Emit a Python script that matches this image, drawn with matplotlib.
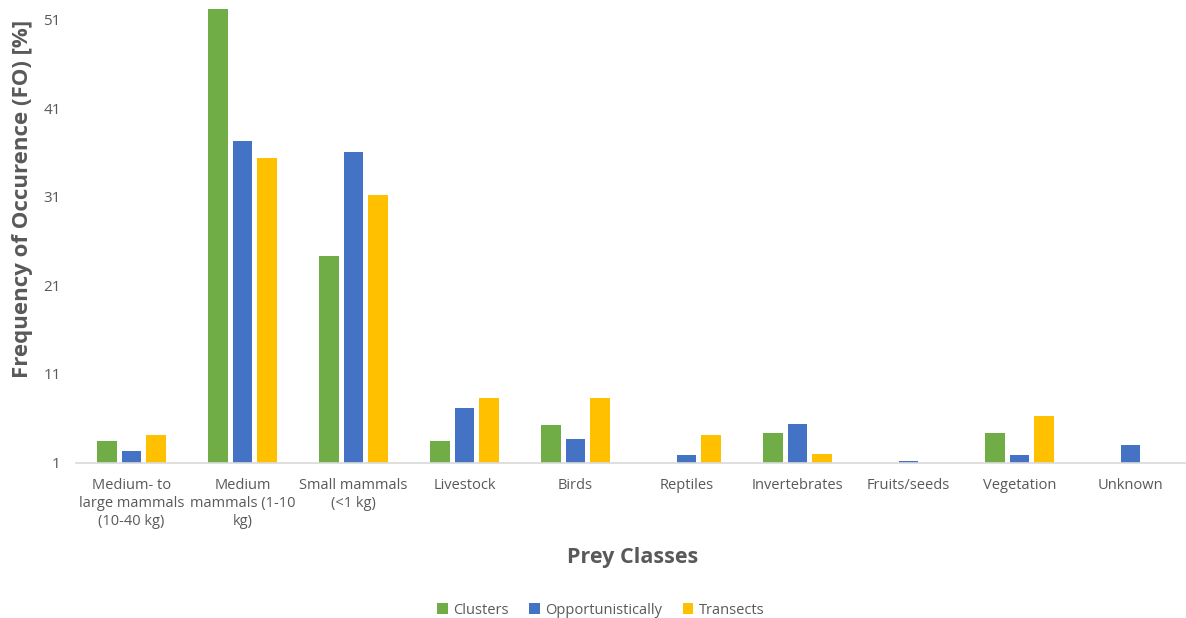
import matplotlib
matplotlib.use("Agg")
import matplotlib.pyplot as plt
import numpy as np

categories = ["Medium- to\nlarge mammals\n(10-40 kg)", "Medium\nmammals (1-10\nkg)", "Small mammals\n(<1 kg)",
              "Livestock", "Birds", "Reptiles", "Invertebrates", "Fruits/seeds", "Vegetation", "Unknown"]
clusters = [3.4, 52.2, 24.3, 3.4, 5.2, 0, 4.3, 0, 4.3, 0]
opportunistically = [2.35, 37.3, 36.1, 7.1, 3.6, 1.8, 5.4, 1.2, 1.8, 3.0]
transects = [4.1, 35.4, 31.2, 8.3, 8.3, 4.1, 2.0, 0, 6.2, 0]
series_names = ["Clusters", "Opportunistically", "Transects"]
colors = ["#70AD47", "#4472C4", "#FFC000"]
yticks = [1, 11, 21, 31, 41, 51]

plt.rcParams['font.family'] = ['Open Sans', 'DejaVu Sans']
fig = plt.figure(figsize=(11.86, 6.18), dpi=100)
W, H = 1186, 618
ax = fig.add_axes([76 / W, (H - 462.5) / H, 1110 / W, (462.5 - 6.2) / H])

x = np.arange(len(categories))
bw = 0.175
off = 0.222
for i, (vals, name, c) in enumerate(zip([clusters, opportunistically, transects], series_names, colors)):
    ax.bar(x + (i - 1) * off, vals, width=bw, color=c, label=name, zorder=2)

ax.set_ylim(1, 52.5)
ax.set_xlim(-0.5, len(categories) - 0.5)
ax.set_yticks(yticks)
ax.set_xticks(x)
ax.set_xticklabels(categories, fontsize=10.5, color="#595959", linespacing=1.25)
ax.tick_params(axis='y', labelsize=11, labelcolor="#595959", length=0, pad=11)
ax.tick_params(axis='x', length=0, pad=11.5)
for s in ["top", "right", "left"]:
    ax.spines[s].set_visible(False)
ax.spines["bottom"].set_color("#D9D9D9")
ax.spines["bottom"].set_linewidth(1.2)

ax.set_ylabel("Frequency of Occurence (FO) [%]", fontsize=16, fontweight="bold", color="#595959")
ax.yaxis.set_label_coords(-43 / 1110, 0.577)
fig.text(633 / W, 1 - 558 / H, "Prey Classes", fontsize=15.5, fontweight="bold", color="#595959",
         ha="center", va="center")

leg = fig.legend(*ax.get_legend_handles_labels(), loc="center", bbox_to_anchor=(601 / W, 1 - 610 / H),
                 ncol=3, frameon=False, fontsize=10.5, handlelength=0.7, handleheight=0.7,
                 columnspacing=1.4, handletextpad=0.4)
for t in leg.get_texts():
    t.set_color("#595959")

fig.savefig("out.png", dpi=100)
